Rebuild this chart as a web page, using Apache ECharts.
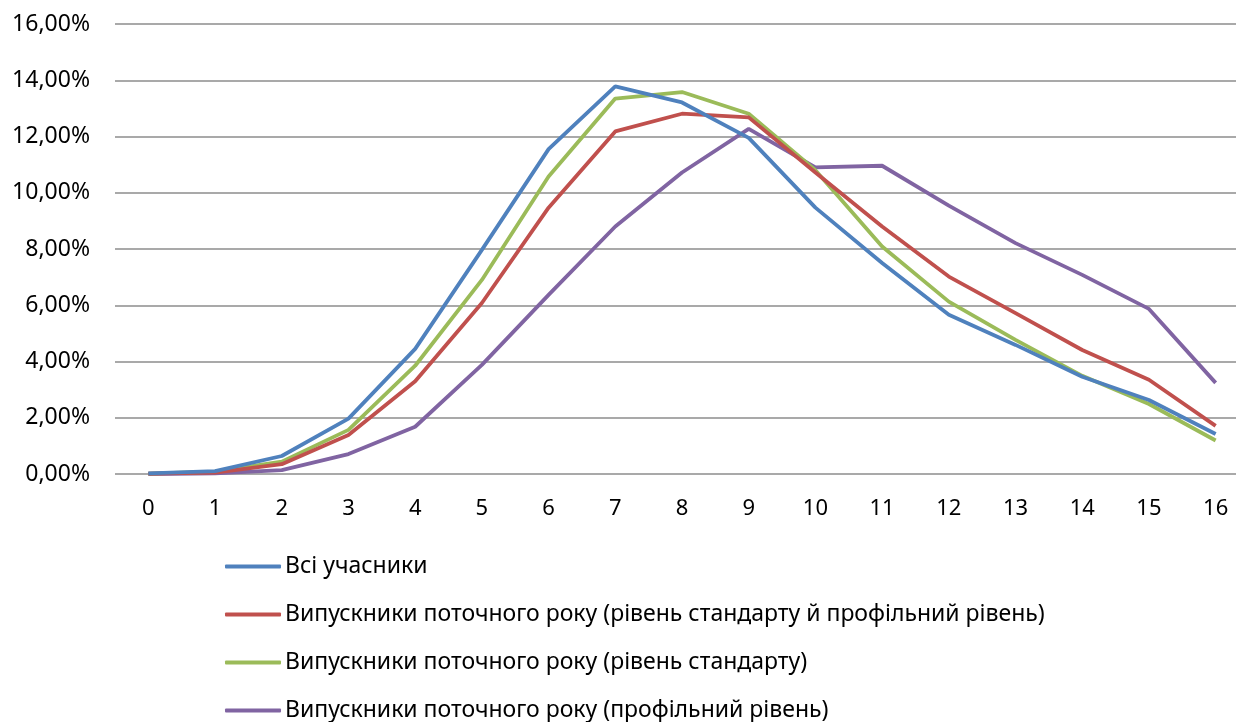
<!DOCTYPE html>
<html>
<head>
<meta charset="utf-8">
<script src="https://cdn.jsdelivr.net/npm/echarts@6/dist/echarts.min.js"></script>
<style>
  html, body { margin: 0; padding: 0; background: #fff; }
  #chart { width: 1236px; height: 722px; }
</style>
</head>
<body>
<div id="chart"></div>
<script>
// scores 0..16 and share of participants (%)
const categories = ['0', '1', '2', '3', '4', '5', '6', '7', '8', '9', '10', '11', '12', '13', '14', '15', '16']
const seriesNames = [
    'Всі учасники',
    'Випускники поточного року (рівень стандарту й профільний рівень)',
    'Випускники поточного року (рівень стандарту)',
    'Випускники поточного року (профільний рівень)'
]
const allParticipants = [0.02, 0.1, 0.64, 1.97, 4.45, 7.97, 11.55, 13.78, 13.21, 11.95, 9.47, 7.5, 5.66, 4.59, 3.46, 2.63, 1.42]
const gradBoth = [0.01, 0.05, 0.35, 1.39, 3.3, 6.08, 9.47, 12.18, 12.81, 12.68, 10.72, 8.8, 7.02, 5.72, 4.41, 3.35, 1.71]
const gradStandard = [0.01, 0.08, 0.44, 1.57, 3.85, 6.9, 10.58, 13.35, 13.58, 12.81, 10.8, 8.09, 6.13, 4.77, 3.49, 2.49, 1.19]
const gradProfile = [0.0, 0.02, 0.14, 0.71, 1.68, 3.88, 6.37, 8.8, 10.72, 12.27, 10.9, 10.96, 9.54, 8.21, 7.08, 5.87, 3.24]

const colors = ['#4F81BD', '#C0504D', '#9BBB59', '#8064A2']
const values = [allParticipants, gradBoth, gradStandard, gradProfile]

const fontFamily = '"Noto Sans", Lato, sans-serif'

const chart = echarts.init(document.getElementById('chart'))

const option = {
    animation: false,
    color: colors,
    grid: {
        left: 115,
        top: 24,
        width: 1134,
        height: 450,
        containLabel: false,
        outerBoundsMode: 'none'
    },
    xAxis: {
        type: 'category',
        data: categories,
        boundaryGap: true,
        axisLine: { show: false },
        axisTick: { show: false },
        axisLabel: {
            color: '#000',
            fontSize: 22,
            fontFamily: fontFamily,
            margin: 24
        }
    },
    yAxis: {
        type: 'value',
        min: 0,
        max: 16,
        interval: 2,
        axisLine: { show: false },
        axisTick: { show: false },
        splitLine: { lineStyle: { color: '#8c8c8c', width: 1.5 } },
        axisLabel: {
            color: '#000',
            fontSize: 23,
            fontFamily: fontFamily,
            margin: 25,
            formatter: v => v.toFixed(2).replace('.', ',') + '%'
        }
    },
    legend: {
        orient: 'vertical',
        left: 225,
        top: 555,
        height: 240,
        padding: 0,
        itemWidth: 56,
        itemHeight: 4,
        itemGap: 25,
        icon: 'roundRect',
        textStyle: {
            color: '#000',
            fontSize: 23,
            fontFamily: fontFamily,
            padding: [0, 0, 0, -1]
        },
        data: seriesNames
    },
    series: seriesNames.map((name, i) => ({
        name: name,
        type: 'line',
        data: values[i],
        symbol: 'none',
        lineStyle: { width: 3.8, color: colors[i] },
        itemStyle: { color: colors[i] },
        z: 10 - i
    }))
}

chart.setOption(option)
</script>
</body>
</html>
